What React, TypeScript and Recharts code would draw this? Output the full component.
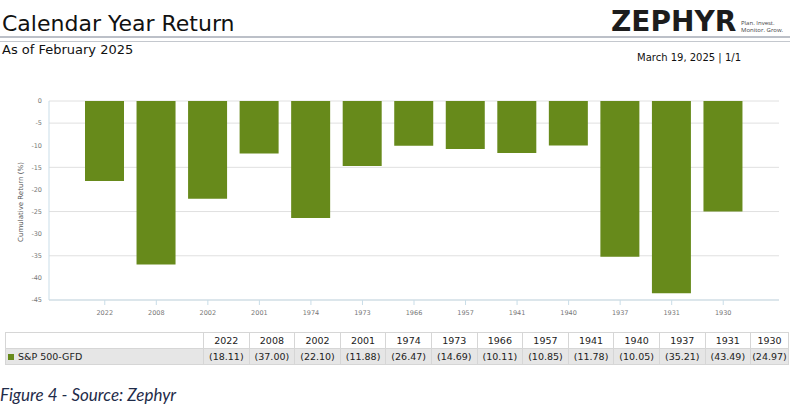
import React from 'react'
import { BarChart, Bar, XAxis, YAxis, CartesianGrid } from 'recharts'

const YEARS = ['2022', '2008', '2002', '2001', '1974', '1973', '1966', '1957', '1941', '1940', '1937', '1931', '1930']
const RETURNS = [-18.11, -37.0, -22.1, -11.88, -26.47, -14.69, -10.11, -10.85, -11.78, -10.05, -35.21, -43.49, -24.97]
const Y_TICKS = [0, -5, -10, -15, -20, -25, -30, -35, -40, -45]
const SERIES_NAME = 'S&P 500-GFD'

const GREEN = '#678a1b'
const FONT = '"DejaVu Sans", Verdana, sans-serif'

if (typeof document !== 'undefined') document.body.style.margin = '0'

const data = YEARS.map((y, i) => ({ year: y, value: RETURNS[i] }))
const fmt = (v: number) => `(${Math.abs(v).toFixed(2)})`

const colWidths = [198, ...YEARS.slice(0, -1).map(() => 45.6), 37.7]

export default function App() {
  const cell: React.CSSProperties = {
    border: '1px solid #d6d6d6', padding: 0, textAlign: 'center', fontSize: 9.5, color: '#222', height: 15,
    whiteSpace: 'nowrap', overflow: 'hidden',
  }
  return (
    <div style={{ position: 'relative', width: 798, height: 407, background: '#fff', fontFamily: FONT, overflow: 'hidden' }}>
      {/* header */}
      <div style={{ position: 'absolute', left: 2, top: 11, fontSize: 22, color: '#111', lineHeight: '26px' }}>Calendar Year Return</div>
      <div style={{ position: 'absolute', left: 0, top: 36, width: 790, height: 2, background: '#bcc0c8' }} />
      <div style={{ position: 'absolute', left: 0, top: 41, width: 790, height: 1, background: '#c4c8ce' }} />
      <div style={{ position: 'absolute', left: 2, top: 42, fontSize: 13, color: '#111', lineHeight: '16px' }}>As of February 2025</div>
      <div style={{ position: 'absolute', left: 611, top: 7, fontSize: 28, fontWeight: 900, color: '#1c1c1c', lineHeight: '30px' }}>
        ZEPHYR
      </div>
      <div style={{ position: 'absolute', left: 741, top: 20, fontSize: 6, color: '#444', lineHeight: '7px', fontFamily: '"Open Sans", sans-serif' }}>
        Plan. Invest.<br />Monitor. Grow.
      </div>
      <div style={{ position: 'absolute', left: 637, top: 51, fontSize: 10, color: '#111', lineHeight: '13px' }}>March 19, 2025 | 1/1</div>

      {/* chart */}
      <div style={{ position: 'absolute', left: 0, top: 0 }}>
        <BarChart width={798} height={330} data={data} margin={{ top: 101, right: 19, bottom: 10, left: 9 }}>
          <CartesianGrid vertical={false} stroke="#e0e0e0" />
          <XAxis
            dataKey="year"
            height={20}
            padding={{ left: 30, right: 30 }}
            axisLine={{ stroke: '#c9dde8' }}
            tickLine={{ stroke: '#c9dde8' }}
            tickSize={5}
            tickMargin={5}
            tick={{ fontSize: 6.5, fill: '#777', fontFamily: FONT }}
            interval={0}
          />
          <YAxis
            width={40}
            domain={[-45, 0]}
            ticks={Y_TICKS}
            allowDataOverflow
            axisLine={{ stroke: '#c9dde8' }}
            tickLine={false}
            tickSize={4}
            tickMargin={3}
            tick={{ fontSize: 6.5, fill: '#777', fontFamily: FONT }}
          />
          <Bar dataKey="value" fill={GREEN} barSize={39} isAnimationActive={false} />
        </BarChart>
      </div>
      <div style={{ position: 'absolute', left: 21, top: 202, width: 0, height: 0 }}>
        <div style={{ position: 'absolute', transform: 'translate(-50%, -50%) rotate(-90deg)', whiteSpace: 'nowrap', fontSize: 7, color: '#555' }}>
          Cumulative Return (%)
        </div>
      </div>

      {/* table */}
      <table style={{ position: 'absolute', left: 5, top: 332, borderCollapse: 'collapse', tableLayout: 'fixed', width: 783, fontFamily: FONT }}>
        <colgroup>
          {colWidths.map((w, i) => <col key={i} style={{ width: w }} />)}
        </colgroup>
        <tbody>
          <tr style={{ background: '#fff' }}>
            <td style={cell}></td>
            {YEARS.map(y => <td key={y} style={cell}>{y}</td>)}
          </tr>
          <tr style={{ background: '#e6e6e6' }}>
            <td style={{ ...cell, textAlign: 'left' }}>
              <span style={{ display: 'inline-block', width: 6, height: 6, background: GREEN, margin: '0 4px 0 2px' }} />
              {SERIES_NAME}
            </td>
            {RETURNS.map((v, i) => <td key={i} style={cell}>{fmt(v)}</td>)}
          </tr>
        </tbody>
      </table>

      <div style={{ position: 'absolute', left: 0, top: 385, fontSize: 17, fontStyle: 'italic', color: '#1f2c4a', fontFamily: 'Lato, sans-serif', lineHeight: '20px' }}>
        Figure 4 - Source: Zephyr
      </div>
    </div>
  )
}
